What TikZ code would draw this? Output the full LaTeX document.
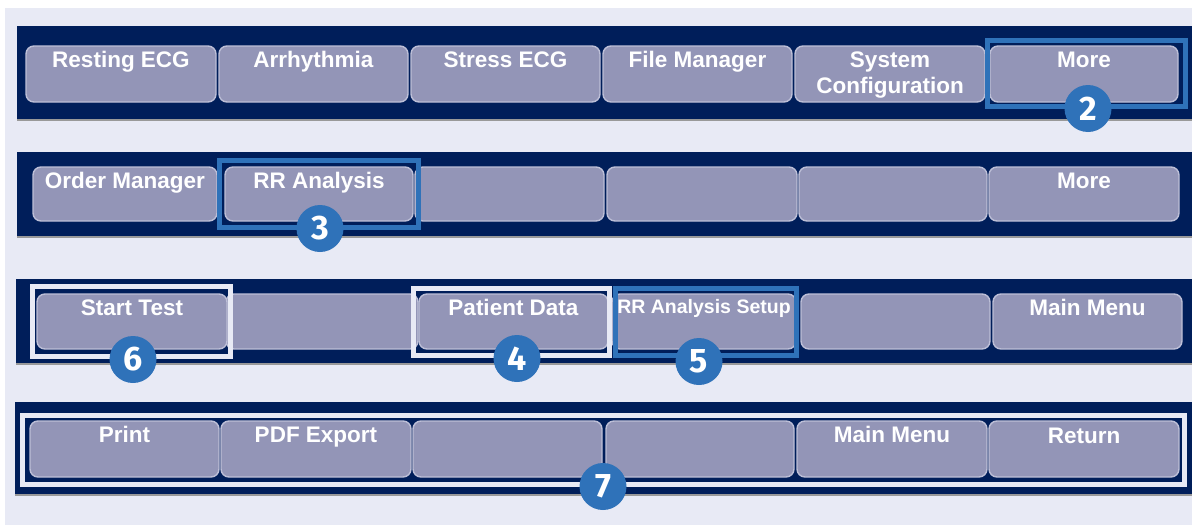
\documentclass[tikz,border=0pt]{standalone}
\usepackage{fontspec}
\setmainfont{Liberation Sans}
\newfontfamily\digitfont{Fira Sans}
\definecolor{bgl}{HTML}{E8EAF5}
\definecolor{navy}{HTML}{001E5A}
\definecolor{btnfill}{HTML}{9395B7}
\definecolor{btnline}{HTML}{BDBFD7}
\definecolor{hlblue}{HTML}{2F72B9}
\definecolor{hlwhite}{HTML}{E8EAF5}
\tikzset{
  barshape/.style={fill=navy, draw=none, inner sep=0pt, outer sep=0pt, rectangle},
  shadowline/.style={draw=gray!80, line width=1.5pt},
  btnshape/.style={fill=btnfill, draw=btnline, line width=1.4pt, rounded corners=8pt, inner sep=0pt, outer sep=0pt, rectangle},
  btntext/.style={text=white, font=\bfseries\fontsize{22.5}{26}\selectfont, inner sep=0pt, align=center},
  hlframe/.style={draw=hlblue, line width=5pt, fill=none, inner sep=0pt, rectangle},
  wframe/.style={draw=hlwhite, line width=5pt, fill=none, inner sep=0pt, rectangle},
  numcircle/.style={circle, fill=hlblue, draw=none, minimum size=47pt, inner sep=0pt, text=white, font=\digitfont\bfseries\fontsize{34}{34}\selectfont},
}
\newcommand\mkbtn[6]{%
  \node[btnshape, minimum width={#4-#2}, minimum height={#5-#3}] (#1) at ({(#2+#4)/2},{(#3+#5)/2}) {};
  \node[btntext, anchor=base] (#1t) at ([yshift=-21pt]#1.north) {#6};
}
\newcommand\mkbox[6]{%
  \node[#6, minimum width={#4-#2}, minimum height={#5-#3}] (#1) at ({(#2+#4)/2},{(#3+#5)/2}) {};
}
\begin{document}
\begin{tikzpicture}[x=1pt,y=-1pt]
\useasboundingbox (0,0) rectangle (1192,525);
\fill[white] (0,0) rectangle (1192,525);
\fill[bgl] (5,8) rectangle (1192,525);
% bars
\mkbox{bar1}{17}{26}{1192}{120}{barshape}
\mkbox{bar2}{17}{152}{1192}{237}{barshape}
\mkbox{bar3}{16}{279}{1192}{364}{barshape}
\mkbox{bar4}{15}{402}{1192}{495}{barshape}
\draw[shadowline] (bar1.south west) -- (bar1.south east);
\draw[shadowline] (bar2.south west) -- (bar2.south east);
\draw[shadowline] (bar3.south west) -- (bar3.south east);
\draw[shadowline] (bar4.south west) -- (bar4.south east);
% row 1
\mkbtn{a1}{26}{46}{216}{102}{Resting ECG}
\mkbtn{a2}{219}{46}{408}{102}{Arrhythmia}
\mkbtn{a3}{411}{46}{600}{102}{Stress ECG}
\mkbtn{a4}{603}{46}{792}{102}{File Manager}
\node[btnshape, minimum width=190pt, minimum height=56pt] (a5) at (890,74) {};
\node[btntext, anchor=base] (a5t) at ([yshift=-47pt]a5.north) {System\\Configuration};
\mkbtn{a6}{990}{46}{1178}{102}{More}
% row 2
\mkbtn{b1}{33}{167}{217}{221}{Order Manager}
\mkbtn{b2}{225}{167}{413}{221}{RR Analysis}
\mkbtn{b3}{415}{167}{604}{221}{}
\mkbtn{b4}{607}{167}{797}{221}{}
\mkbtn{b5}{799}{167}{987}{221}{}
\mkbtn{b6}{989}{167}{1179}{221}{More}
% row 3
\mkbtn{c2}{226}{294}{418}{349}{}
\mkbtn{c1}{37}{294}{227}{349}{Start Test}
\mkbtn{c3}{419}{294}{608}{349}{Patient Data}
\node[btnshape, minimum width=184pt, minimum height=55pt] (c4) at (704,321.5) {};
\node[btntext, anchor=base, font=\bfseries\fontsize{19.5}{24}\selectfont] (c4t) at ([yshift=-19pt]c4.north) {RR Analysis Setup};
\mkbtn{c5}{801}{294}{990}{349}{}
\mkbtn{c6}{993}{294}{1182}{349}{Main Menu}
% row 4
\mkbtn{d1}{30}{421}{219}{477}{Print}
\mkbtn{d2}{221}{421}{411}{477}{PDF Export}
\mkbtn{d3}{413}{421}{602}{477}{}
\mkbtn{d4}{606}{421}{794}{477}{}
\mkbtn{d5}{797}{421}{987}{477}{Main Menu}
\node[btnshape, minimum width=190pt, minimum height=56pt] (d6) at (1084,449) {};
\node[btntext, anchor=base] (d6t) at ([yshift=-22pt]d6.north) {Return};
% highlight frames
\mkbox{h2}{987.5}{40.5}{1185.5}{106.5}{hlframe}
\mkbox{h3}{219.5}{160.5}{418.5}{227.5}{hlframe}
\mkbox{h6}{32.5}{286.5}{230.5}{356.5}{wframe}
\mkbox{h4}{413.5}{288.5}{609.5}{355.5}{wframe}
\mkbox{h5}{615.5}{288.5}{796.5}{355.5}{hlframe}
\mkbox{h7}{22.5}{415.5}{1184.5}{484.5}{wframe}
% number circles
\node[numcircle] (n2) at (1088,108.5) {2};
\node[numcircle] (n3) at (320,228.5) {3};
\node[numcircle] (n6) at (133,359.5) {6};
\node[numcircle] (n4) at (517,358.5) {4};
\node[numcircle] (n5) at (699,361.5) {5};
\node[numcircle] (n7) at (603,486.5) {7};
\end{tikzpicture}
\end{document}
